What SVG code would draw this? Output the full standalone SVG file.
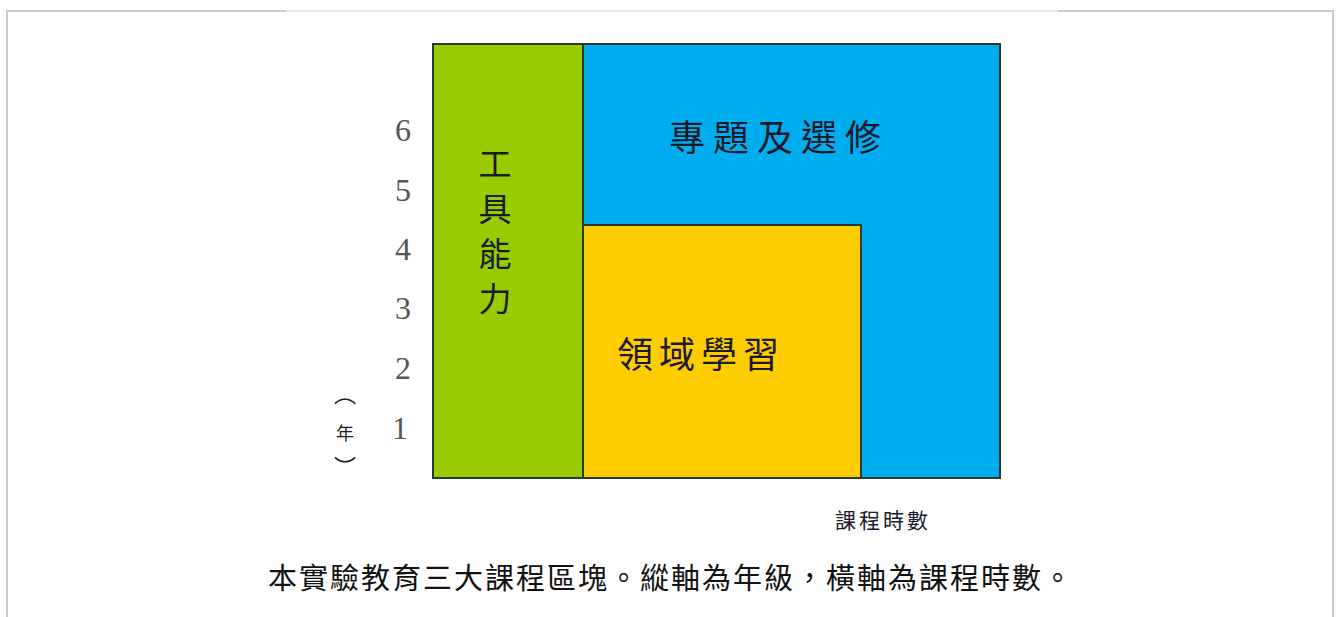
<svg xmlns="http://www.w3.org/2000/svg" width="1341" height="617" viewBox="0 0 1341 617">
<style>
.frame{stroke:#cccccc;stroke-width:2;fill:none}
.blk{stroke:#2a3a2a;stroke-width:2}
.num{font-family:"Liberation Serif","DejaVu Serif",serif;font-size:32px;fill:#555;text-anchor:middle}
.cjk{font-family:"Noto Sans CJK TC","Noto Sans CJK SC",sans-serif;fill:#1a1a2a}
</style>
<rect width="1341" height="617" fill="#fff"/>
<g id="frame">
<path class="frame" d="M7,617 V11 H286"/>
<path d="M286,11 H1058" stroke="#e6e6e6" stroke-width="2"/>
<path class="frame" d="M1058,11 H1333 V617"/>
</g>
<g id="blue"><rect class="blk" x="583" y="44" width="417" height="434" fill="#00aeef"/>
<text class="cjk" x="779" y="151" font-size="36" text-anchor="middle" letter-spacing="8">專題及選修</text></g>
<g id="green"><rect class="blk" x="433" y="44" width="150" height="434" fill="#99cc00"/>
<text class="cjk" font-size="33" text-anchor="middle"><tspan x="495" y="176">工</tspan><tspan x="495" y="221">具</tspan><tspan x="495" y="266">能</tspan><tspan x="495" y="311">力</tspan></text></g>
<g id="yellow"><rect class="blk" x="583" y="225" width="278" height="253" fill="#ffcc00"/>
<text class="cjk" x="701" y="368" font-size="36" text-anchor="middle" letter-spacing="6">領域學習</text></g>
<g id="axis">
<text class="num" x="403" y="141">6</text>
<text class="num" x="403" y="201">5</text>
<text class="num" x="403" y="260">4</text>
<text class="num" x="403" y="319">3</text>
<text class="num" x="403" y="379">2</text>
<text class="num" x="400" y="439">1</text>
<text class="cjk" font-size="22" text-anchor="middle" fill="#333"><tspan x="345" y="402">︵</tspan><tspan x="345" y="440" font-size="18">年</tspan><tspan x="345" y="475">︶</tspan></text>
<text class="cjk" x="883" y="528" font-size="21" text-anchor="middle" fill="#333" letter-spacing="3">課程時數</text>
</g>
<text font-family="Noto Sans CJK TC,Noto Sans CJK SC,sans-serif" x="671" y="589" font-size="29" text-anchor="middle" fill="#111" letter-spacing="2">本實驗教育三大課程區塊。縱軸為年級，橫軸為課程時數。</text>
</svg>
